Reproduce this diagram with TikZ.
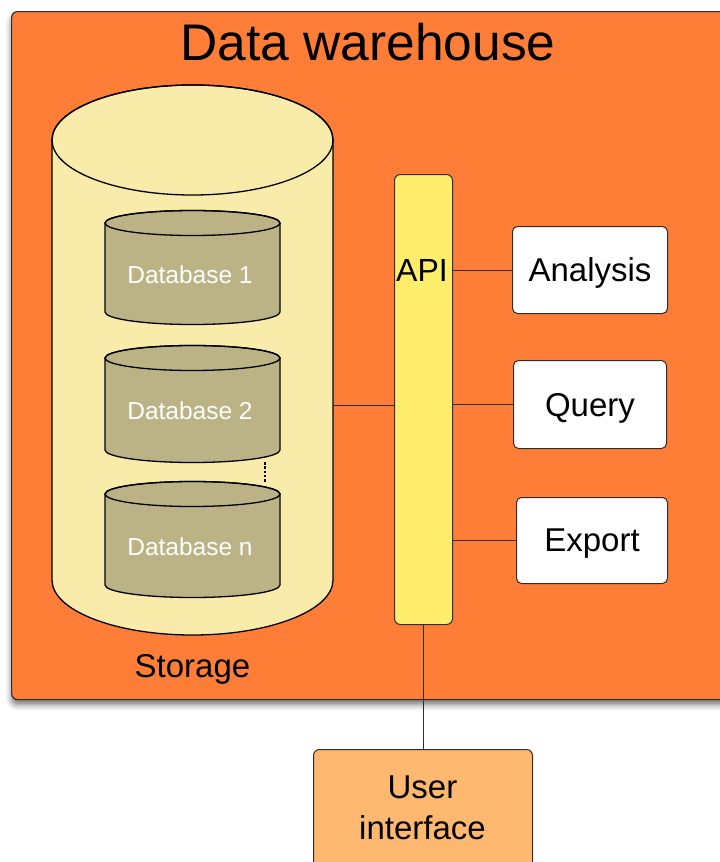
\documentclass[tikz,border=0pt]{standalone}
\usepackage{fontspec}
\setmainfont{Liberation Sans}
\usetikzlibrary{shadows.blur}

\definecolor{whorange}{HTML}{FE7E37}
\definecolor{storefill}{HTML}{F9EBAA}
\definecolor{dbfill}{HTML}{BBB385}
\definecolor{apifill}{HTML}{FFEE6B}
\definecolor{uifill}{HTML}{FFB86F}
\definecolor{edge}{HTML}{2E2E2E}

% cylinder: #1 centre x, #2 top-ellipse centre y, #3 bottom-ellipse centre y,
% #4 x radius, #5 y radius, #6 fill colour, #7 line width
\newcommand{\cylbody}[7]{%
  \filldraw[draw=black, fill=#6, line width=#7]
    (#1-#4,#2) -- (#1-#4,#3) arc[start angle=180, end angle=360, x radius=#4, y radius=#5]
    -- (#1+#4,#2) arc[start angle=0, end angle=180, x radius=#4, y radius=#5] -- cycle;
  \draw[black, line width=#7] (#1,#2) ellipse[x radius=#4, y radius=#5];
}

\tikzset{
  wire/.style={draw=edge, line width=0.9pt},
  toolbox/.style={draw=edge, fill=white, rounded corners=5pt, line width=1pt,
    font=\fontsize{33}{38}\selectfont, align=center, inner sep=0pt, text depth=0pt},
  dblabel/.style={text=white, font=\fontsize{24.5}{28}\selectfont},
}

\begin{document}
\begin{tikzpicture}[x=1pt,y=1pt]
  \useasboundingbox (0,0) rectangle (720,-862);

  % warehouse frame
  \node[draw=edge, line width=1.2pt, fill=whorange, rounded corners=6pt,
        minimum width=730pt, minimum height=688pt, inner sep=0pt,
        blur shadow={shadow xshift=0pt, shadow yshift=-5pt, shadow blur radius=6pt, shadow opacity=55},
        anchor=north west] (wh) at (11,-11) {};
  \node[font=\fontsize{51.5}{56}\selectfont] (title) at (368,-42) {Data warehouse};

  % storage cylinder
  \cylbody{192.5}{-140}{-580}{140.5}{55}{storefill}{1.3pt}
  \node[minimum width=281pt, minimum height=550pt, inner sep=0pt] (storage) at (192.5,-360) {};
  \node[font=\fontsize{33}{38}\selectfont] (storagelbl) at (192.5,-669) {Storage};

  % databases
  \cylbody{192.5}{-223}{-312}{87.5}{12.5}{dbfill}{1.3pt}
  \node[dblabel] (db1) at (190,-275) {Database 1};
  \cylbody{192.5}{-358}{-450}{87.5}{12.5}{dbfill}{1.3pt}
  \node[dblabel] (db2) at (190,-411) {Database 2};
  \cylbody{192.5}{-494}{-585}{87.5}{12.5}{dbfill}{1.3pt}
  \node[dblabel] (dbn) at (190,-547) {Database n};
  \coordinate (dotA) at (265,-462);
  \coordinate (dotB) at (265,-482);
  \draw[black, line width=2.8pt, dash pattern=on 2.5pt off 1.8pt] (dotA) -- (dotB);

  % API bar
  \node[draw=edge, fill=apifill, rounded corners=6pt, line width=1pt,
        minimum width=58pt, minimum height=450pt, inner sep=0pt,
        anchor=north west] (api) at (394,-174) {};
  \node[font=\fontsize{32}{36}\selectfont, inner sep=0pt] (apilbl) at (422,-270) {API};

  % tool boxes
  \node[toolbox, minimum width=155pt, minimum height=87pt, anchor=north west] (analysis) at (512,-226) {Analysis};
  \node[toolbox, minimum width=153pt, minimum height=88pt, anchor=north west] (query) at (513,-360) {Query};
  \node[toolbox, minimum width=151pt, minimum height=86pt, anchor=north west] (export) at (516,-497) {Export};

  % user interface
  \node[draw=edge, fill=uifill, rounded corners=6pt, line width=1pt,
        minimum width=219pt, minimum height=130pt, inner sep=0pt,
        anchor=north west] (ui) at (313,-749) {};
  \node[font=\fontsize{33}{41}\selectfont, align=center] (uilbl) at (422.5,-808) {User\\interface};

  % connectors
  \draw[wire] (storage.east |- 0,-405) -- (api.west |- 0,-405);
  \draw[wire] (api.east |- analysis.west) -- (analysis.west);
  \draw[wire] (api.east |- query.west) -- (query.west);
  \draw[wire] (api.east |- export.west) -- (export.west);
  \draw[wire] (api.south -| ui.north) -- (ui.north);
\end{tikzpicture}
\end{document}
